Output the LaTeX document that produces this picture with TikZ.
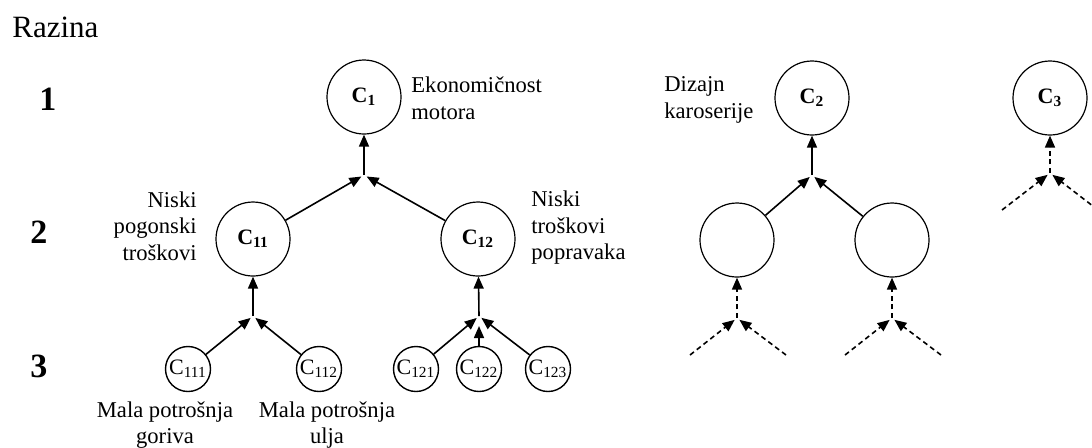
\documentclass[tikz,border=0pt]{standalone}
\usepackage{fontspec}
\setmainfont{Liberation Serif}
\usepackage{tikz}
\usetikzlibrary{arrows.meta}
\newcommand{\Cbf}[1]{\textbf{C}\textsubscript{\textbf{#1}}}
\newcommand{\Crm}[1]{C\textsubscript{#1}}
\tikzset{
  nd_big/.style = {circle, draw=black, line width=0.6pt, minimum size=37pt, inner sep=0pt,
    font=\fontsize{11}{13}\selectfont},% razina 1 i 2
  nd_small/.style = {circle, draw=black, line width=0.7pt, minimum size=22.5pt, inner sep=0pt,
    font=\fontsize{11}{13}\selectfont},% razina 3
  lbl/.style = {inner sep=0pt, font=\fontsize{11.3}{13.25}\selectfont},% opis kriterija
  lvl/.style = {inner sep=0pt, font=\fontsize{17}{20}\selectfont\bfseries},% broj razine
  edge_s/.style = {->, line width=0.8pt},% puna veza
  edge_j/.style = {edge_s, shorten >=1.5pt},% veza do cvora spajanja
  edge_d/.style = {edge_s, dash pattern=on 2.5pt off 1.8pt},% isprekidana veza
  edge_dj/.style = {edge_d, shorten >=1.5pt}
}

\begin{document}
\begin{tikzpicture}[x=0.5pt, y=-0.5pt, >={Triangle[length=6pt,width=5pt]}]
\useasboundingbox (0,0) rectangle (1092,447);
% razine
\node [lbl, font=\fontsize{15.5}{18}\selectfont, anchor=base west] (razina) at (12,37) {Razina};
\node [lvl, anchor=base] (r1) at (48,110) {1};
\node [lvl, anchor=base] (r2) at (39,243) {2};
\node [lvl, anchor=base] (r3) at (39,377) {3};
% stablo C1
\node [nd_big] (c1) at (364,97) {\Cbf{1}};
\node [nd_big] (c11) at (253,239) {\Cbf{11}};
\node [nd_big] (c12) at (478,239) {\Cbf{12}};
\node [nd_small] (c111) at (188,369) {\Crm{111}};
\node [nd_small] (c112) at (319,369) {\Crm{112}};
\node [nd_small] (c121) at (416,369) {\Crm{121}};
\node [nd_small] (c122) at (479,369) {\Crm{122}};
\node [nd_small] (c123) at (548,369) {\Crm{123}};
\coordinate (j1) at (364,175);
\coordinate (j11) at (253,316);
\coordinate (j12) at (479,316);
\draw [edge_s] (j1) -- (c1);
\draw [edge_j] (c11) -- (j1);
\draw [edge_j] (c12) -- (j1);
\draw [edge_s] (j11) -- (c11);
\draw [edge_j] (c111) -- (j11);
\draw [edge_j] (c112) -- (j11);
\draw [edge_s] (j12) -- (c12);
\draw [edge_j] (c121) -- (j12);
\draw [edge_j, shorten >=5pt] (c122) -- (j12);
\draw [edge_j] (c123) -- (j12);
% opisi
\node [lbl, align=left, anchor=west] (t1) at (411,98) {Ekonomičnost\\motora};
\node [lbl, align=right, anchor=east] (t11) at (197,226) {Niski\\pogonski\\troškovi};
\node [lbl, align=left, anchor=west] (t12) at (531,228) {Niski\\troškovi\\popravaka};
\node [lbl, align=center, anchor=north] (t111) at (165,401) {Mala potrošnja\\goriva};
\node [lbl, align=center, anchor=north] (t112) at (327,401) {Mala potrošnja\\ulja};
% stablo C2
\node [nd_big] (c2) at (812,98) {\Cbf{2}};
\node [nd_big] (c21) at (737,240) {};
\node [nd_big] (c22) at (892,240) {};
\node [lbl, align=left, anchor=west] (t2) at (664,100) {Dizajn\\karoserije};
\coordinate (j2) at (812,175);
\coordinate (j21) at (737,318);
\coordinate (j22) at (892,318);
\coordinate (e211) at (690,355);
\coordinate (e212) at (786,355);
\coordinate (e221) at (845,355);
\coordinate (e222) at (941,355);
\draw [edge_s] (j2) -- (c2);
\draw [edge_j] (c21) -- (j2);
\draw [edge_j] (c22) -- (j2);
\draw [edge_d] (j21) -- (c21);
\draw [edge_dj] (e211) -- (j21);
\draw [edge_dj] (e212) -- (j21);
\draw [edge_d] (j22) -- (c22);
\draw [edge_dj] (e221) -- (j22);
\draw [edge_dj] (e222) -- (j22);
% stablo C3
\node [nd_big] (c3) at (1050,98) {\Cbf{3}};
\coordinate (j3) at (1050,173);
\coordinate (e31) at (1002,210);
\coordinate (e32) at (1098,210);
\draw [edge_d] (j3) -- (c3);
\draw [edge_dj] (e31) -- (j3);
\draw [edge_dj] (e32) -- (j3);
\end{tikzpicture}
\end{document}
